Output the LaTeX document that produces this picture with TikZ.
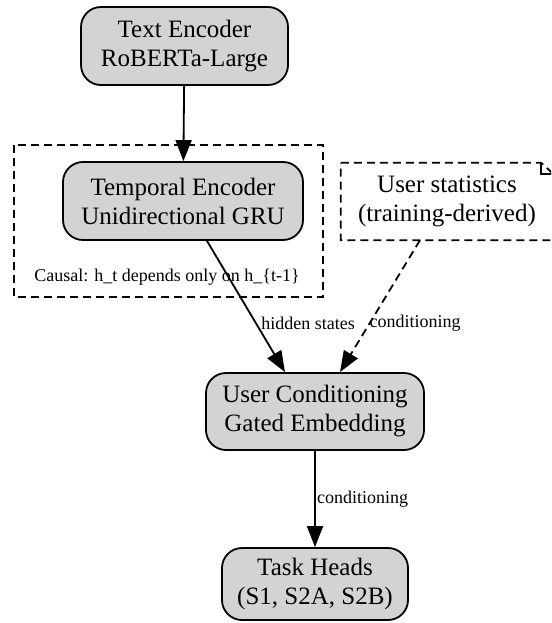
\documentclass[tikz,border=0pt]{standalone}
\usepackage{fontspec}
\setmainfont{Liberation Serif}
\usetikzlibrary{arrows.meta,calc}
\definecolor{boxgray}{HTML}{D3D3D3}
\begin{document}
\begin{tikzpicture}[x=1pt,y=-1pt,
  box/.style={draw,line width=1.8pt,fill=boxgray,rounded corners=20pt,align=center,
    font=\fontsize{25}{29}\selectfont,inner sep=0pt},
  lbl/.style={font=\fontsize{18}{21}\selectfont,inner sep=1pt},
  conn/.style={line width=1.8pt,-{Triangle[length=21pt,width=16pt]}},
  dsh/.style={dash pattern=on 8pt off 5pt},
]
\clip (0,0) rectangle (551,623);
\fill[white] (0,0) rectangle (551,623);

% cluster
\draw[line width=1.8pt,dsh] (14,145) rectangle (323,297);
\node[lbl] (causal) at (167,277) {Causal: h\_t depends only on h\_\{t-1\}};

% nodes
\node[box,minimum width=207pt,minimum height=78pt] (text) at (184.5,46) {Text Encoder\\RoBERTa-Large};
\node[box,minimum width=240pt,minimum height=78pt] (temporal) at (183,201) {Temporal Encoder\\Unidirectional GRU};
\node[box,minimum width=218pt,minimum height=77pt] (usercond) at (315,411.5) {User Conditioning\\Gated Embedding};
\node[box,minimum width=186pt,minimum height=72pt] (task) at (315,584) {Task Heads\\(S1, S2A, S2B)};

% note
\node[align=center,font=\fontsize{25}{29}\selectfont,inner sep=0pt,minimum width=212pt,minimum height=77pt] (stats) at (447,201.5) {User statistics\\(training-derived)};
\draw[line width=1.8pt,dsh]
  (stats.north west) -- ($(stats.north east)+(-12,0)$) -- ($(stats.north east)+(0,11)$)
  -- (stats.south east) -- (stats.south west) -- cycle;
\draw[line width=1.8pt]
  ($(stats.north east)+(-12,0)$) -- ($(stats.north east)+(-12,11)$) -- ($(stats.north east)+(0,11)$);

% connectors
\draw[conn] (text) -- (temporal);
\draw[conn] ($(temporal.south)+(24,0)$) -- ($(usercond.north)+(-30,0)$);
\draw[conn,dsh] ($(stats.south)+(-27,0)$) -- ($(usercond.north)+(25,0)$);
\draw[conn] (usercond) -- (task);

% labels
\node[lbl] (hs) at (308,323) {hidden states};
\node[lbl] (cond1) at (415,323) {conditioning};
\node[lbl,anchor=west] (cond2) at (316,499) {conditioning};
\end{tikzpicture}
\end{document}
